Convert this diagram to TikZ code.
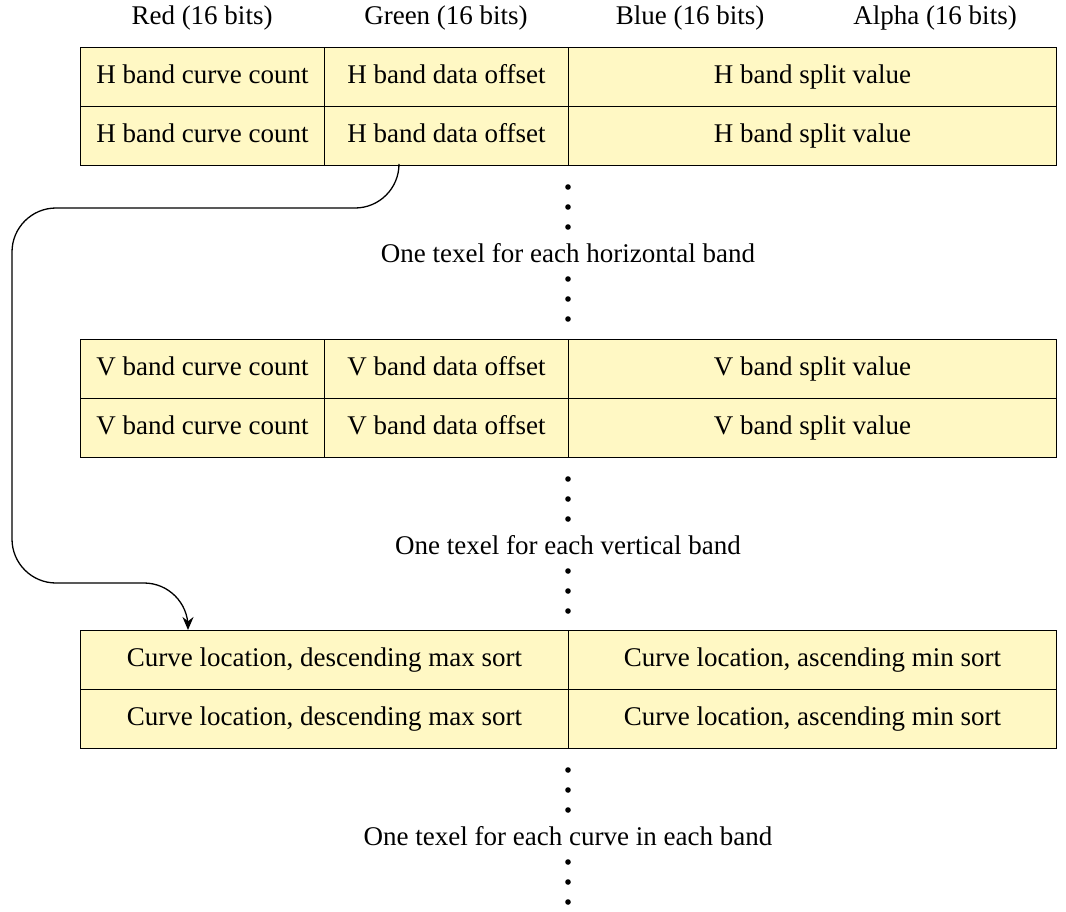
\documentclass[tikz,border=0pt]{standalone}
\usepackage{fontspec}
\setmainfont{Liberation Serif}
\usetikzlibrary{positioning,arrows.meta}
\definecolor{texel}{HTML}{FFF8C4}
\tikzset{
  cell/.style={draw, line width=1pt, fill=texel, anchor=north west,
    minimum width=244pt, minimum height=59pt, inner sep=0pt,
    text height=19pt, text depth=6pt},
  widecell/.style={cell, minimum width=488pt},
  link/.style={line width=1.3pt, rounded corners=44pt,
    -{Stealth[length=13pt,width=11pt]}},
}
\begin{document}
\begin{tikzpicture}[x=1pt, y=-1pt, font=\fontsize{27}{32}\selectfont]
  \useasboundingbox (0,0) rectangle (1066,911);
  % channel headings
  \node (red) at (202,18) {Red (16 bits)};
  \node (green) at (446,18) {Green (16 bits)};
  \node (blue) at (690,18) {Blue (16 bits)};
  \node (alpha) at (935,18) {Alpha (16 bits)};
  % horizontal band texels
  \foreach \r/\y in {1/47,2/106} {
    \node[cell] (hcount\r) at (80,\y) {H band curve count};
    \node[cell] (hoffset\r) at (324,\y) {H band data offset};
    \node[widecell] (hsplit\r) at (568,\y) {H band split value};
  }
  % vertical band texels
  \foreach \r/\y in {1/339,2/398} {
    \node[cell] (vcount\r) at (80,\y) {V band curve count};
    \node[cell] (voffset\r) at (324,\y) {V band data offset};
    \node[widecell] (vsplit\r) at (568,\y) {V band split value};
  }
  % curve location texels
  \foreach \r/\y in {1/630,2/689} {
    \node[widecell] (curvemax\r) at (80,\y) {Curve location, descending max sort};
    \node[widecell] (curvemin\r) at (568,\y) {Curve location, ascending min sort};
  }
  % ellipses
  \foreach \y in {187,207,227,279,299,319,479,499,519,571,591,611,770,790,810,862,882,902}
    \fill (568,\y) circle (2.8);
  \node (hnote) at (568,253) {One texel for each horizontal band};
  \node (vnote) at (568,545) {One texel for each vertical band};
  \node (cnote) at (568,836) {One texel for each curve in each band};
  % offset points into the curve data
  \draw[link] ([xshift=75pt]hoffset2.south west) -- ++(0,42) -| (12,583)
    -| ([xshift=108pt]curvemax1.north west);
\end{tikzpicture}
\end{document}
